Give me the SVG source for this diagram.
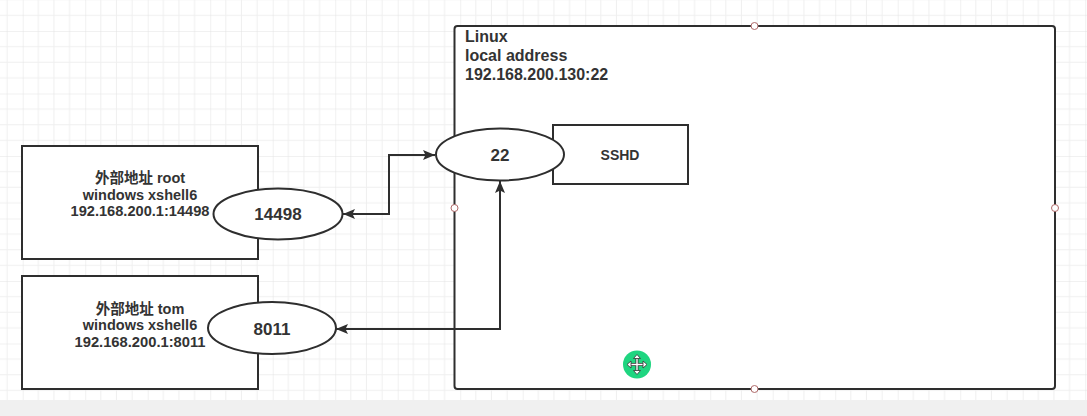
<svg xmlns="http://www.w3.org/2000/svg" width="1087" height="416" viewBox="0 0 1087 416">
<style>
.shape{fill:#ffffff;stroke:#2e2e2e;stroke-width:2}
.txt{font-family:"Liberation Sans","Noto Sans CJK SC",sans-serif;font-weight:bold;fill:#333333}
.box{font-size:14.5px;text-anchor:middle}
.port{font-size:17px;text-anchor:middle}
.title{font-size:16px}
.conn{fill:none;stroke:#2e2e2e;stroke-width:2}
.dot{fill:#ffffff;stroke:#b06a6a;stroke-width:1}
</style>
<defs>
<pattern id="grid" patternUnits="userSpaceOnUse" x="22.7" y="31" width="62.5" height="62.5">
<path d="M15.625 0V62.5M31.25 0V62.5M46.875 0V62.5M0 15.625H62.5M0 31.25H62.5M0 46.875H62.5" stroke="#efefef" stroke-width="1" fill="none"/>
<path d="M0 0V62.5M0 0H62.5" stroke="#e3e3e3" stroke-width="1" fill="none"/>
</pattern>
<marker id="arr" markerUnits="userSpaceOnUse" markerWidth="13" markerHeight="11" refX="12" refY="5" orient="auto-start-reverse">
<path d="M0,0 L12,5 L0,10 L2.5,5 Z" fill="#2e2e2e"/>
</marker>
</defs>
<rect x="0" y="0" width="1087" height="416" fill="#ffffff"/>
<rect x="0" y="0" width="1087" height="400" fill="url(#grid)"/>
<rect x="0" y="400" width="1087" height="16" fill="#f0f0f0"/>

<g id="linux">
<rect class="shape" x="454.5" y="26" width="600.5" height="363" rx="3" stroke-width="2.5"/>
<text class="txt title" x="465" y="42">Linux</text>
<text class="txt title" x="465" y="61">local address</text>
<text class="txt title" x="465" y="80">192.168.200.130:22</text>
</g>

<g id="sshd">
<rect class="shape" x="553" y="125" width="135" height="59"/>
<text class="txt" x="620" y="160" font-size="14" text-anchor="middle">SSHD</text>
</g>

<g id="port22">
<ellipse class="shape" cx="500" cy="154.5" rx="64" ry="26"/>
<text class="txt port" x="500" y="161">22</text>
</g>

<g id="client-root">
<rect class="shape" x="22" y="146" width="236" height="113"/>
<text class="txt box" x="140" y="183">外部地址 root</text>
<text class="txt box" x="140" y="199.5">windows xshell6</text>
<text class="txt box" x="140" y="216" textLength="139" lengthAdjust="spacingAndGlyphs">192.168.200.1:14498</text>
</g>

<g id="port14498">
<ellipse class="shape" cx="278" cy="214" rx="64.5" ry="25.5"/>
<text class="txt port" x="278" y="220">14498</text>
</g>

<g id="client-tom">
<rect class="shape" x="22" y="276" width="236" height="113"/>
<text class="txt box" x="140" y="313.5">外部地址 tom</text>
<text class="txt box" x="140" y="330">windows xshell6</text>
<text class="txt box" x="140" y="346.5" textLength="131" lengthAdjust="spacingAndGlyphs">192.168.200.1:8011</text>
</g>

<g id="port8011">
<ellipse class="shape" cx="272" cy="328" rx="64" ry="26"/>
<text class="txt port" x="272" y="335">8011</text>
</g>

<g id="connectors">
<path class="conn" d="M343,214 H389 V155 H435" marker-start="url(#arr)" marker-end="url(#arr)"/>
<path class="conn" d="M336,329 H500 V181" marker-start="url(#arr)" marker-end="url(#arr)"/>
</g>

<g id="handles">
<circle class="dot" cx="754.5" cy="26" r="3.5"/>
<circle class="dot" cx="454.5" cy="208" r="3.5"/>
<circle class="dot" cx="1055" cy="208" r="3.5"/>
<circle class="dot" cx="754.5" cy="389" r="3.5"/>
</g>

<g id="move-icon">
<circle cx="637" cy="364.5" r="14" fill="#1fd580"/>
<path d="M637,356 V373 M628.5,364.5 H645.5" stroke="#333" stroke-width="3" fill="none"/>
<path d="M637,356 V373 M628.5,364.5 H645.5" stroke="#fff" stroke-width="1.4" fill="none"/>
<path d="M637,354.5 L633.5,358.5 H640.5 Z M637,374.5 L633.5,370.5 H640.5 Z M627,364.5 L631,361 V368 Z M647,364.5 L643,361 V368 Z" fill="#fff" stroke="#333" stroke-width="0.8"/>
</g>
</svg>
